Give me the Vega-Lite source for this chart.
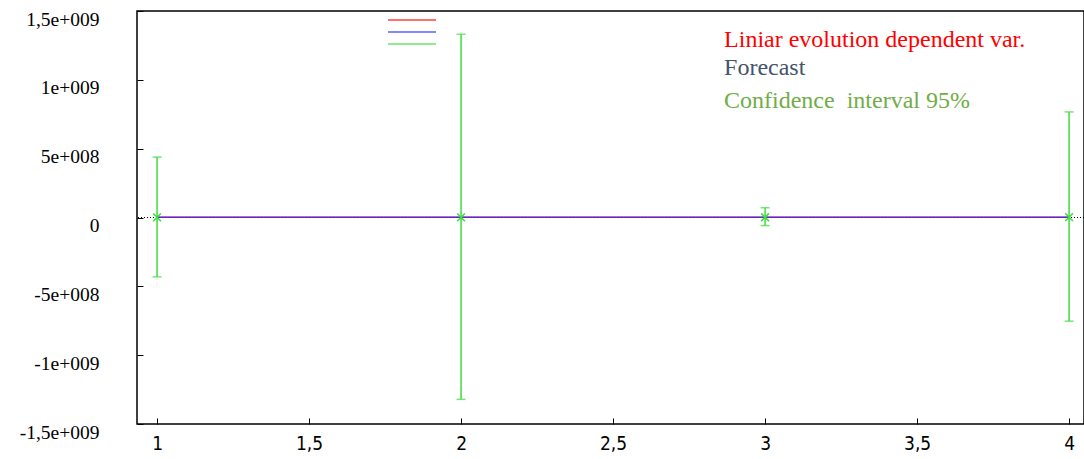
{
  "$schema": "https://vega.github.io/schema/vega-lite/v6.json",
  "autosize": "none",
  "width": 947,
  "height": 413,
  "padding": {"left": 137, "top": 11, "right": 0, "bottom": 35},
  "background": "white",
  "config": {
    "view": {"stroke": "black", "strokeWidth": 1.5},
    "axis": {"grid": false, "domain": false, "tickColor": "black", "tickSize": -6, "labelColor": "black"}
  },
  "datasets": {
    "lines": [
      {"x": 1, "value": 1000000, "series": "Liniar evolution dependent var."},
      {"x": 2, "value": 1500000, "series": "Liniar evolution dependent var."},
      {"x": 3, "value": 2000000, "series": "Liniar evolution dependent var."},
      {"x": 4, "value": 2500000, "series": "Liniar evolution dependent var."},
      {"x": 1, "value": 1000000, "series": "Forecast"},
      {"x": 2, "value": 1500000, "series": "Forecast"},
      {"x": 3, "value": 2000000, "series": "Forecast"},
      {"x": 4, "value": 2500000, "series": "Forecast"}
    ],
    "ci": [
      {"x": 1, "center": 1000000, "lo": -431000000, "hi": 439000000},
      {"x": 2, "center": 1500000, "lo": -1321000000, "hi": 1331000000},
      {"x": 3, "center": 2000000, "lo": -59000000, "hi": 71000000},
      {"x": 4, "center": 2500000, "lo": -753000000, "hi": 767000000}
    ],
    "one": [{}]
  },
  "layer": [
    {
      "data": {"name": "one"},
      "mark": {"type": "rule", "color": "black", "strokeDash": [1, 2], "strokeWidth": 1},
      "encoding": {"y": {"datum": 0, "type": "quantitative"}}
    },
    {
      "data": {"name": "lines"},
      "mark": {"type": "line", "strokeWidth": 1.5, "opacity": 0.75},
      "encoding": {
        "x": {
          "field": "x", "type": "quantitative",
          "scale": {"domain": [0.934, 4.049], "nice": false, "zero": false},
          "axis": {
            "title": null, "values": [1, 1.5, 2, 2.5, 3, 3.5, 4],
            "labelExpr": "replace(format(datum.value, ''), '.', ',')",
            "labelFont": "DejaVu Sans Condensed",
            "labelFontSize": 19, "labelPadding": 16
          }
        },
        "y": {
          "field": "value", "type": "quantitative",
          "scale": {"domain": [-1500000000, 1500000000], "nice": false},
          "axis": {
            "title": null,
            "values": [-1500000000, -1000000000, -500000000, 0, 500000000, 1000000000, 1500000000],
            "labelExpr": "(datum.value<0?'-':'') + (abs(datum.value)==1500000000?'1,5e+009':abs(datum.value)==1000000000?'1e+009':abs(datum.value)==500000000?'5e+008':'0')",
            "labelFont": "Times New Roman",
            "labelFontSize": 19.5, "labelPadding": 44, "labelOffset": 8
          }
        },
        "color": {
          "field": "series", "type": "nominal",
          "scale": {
            "domain": ["Liniar evolution dependent var.", "Forecast", "Confidence interval 95%"],
            "range": ["#ff0000", "#2a2aff", "#3ddc3d"]
          },
          "legend": {
            "orient": "none", "legendX": 250, "legendY": 3, "title": null,
            "symbolType": "stroke", "symbolSize": 2304, "symbolStrokeWidth": 1.5,
            "clipHeight": 12, "rowPadding": 0, "labelOpacity": 0, "labelFontSize": 1
          }
        },
        "order": {"field": "x"}
      }
    },
    {
      "data": {"name": "ci"},
      "mark": {"type": "rule", "strokeWidth": 1.5},
      "encoding": {
        "x": {"field": "x", "type": "quantitative"},
        "y": {"field": "lo", "type": "quantitative"},
        "y2": {"field": "hi"},
        "color": {"datum": "Confidence interval 95%"}
      }
    },
    {
      "data": {"name": "ci"},
      "mark": {"type": "tick", "orient": "horizontal", "size": 9, "thickness": 1.5},
      "encoding": {
        "x": {"field": "x", "type": "quantitative"},
        "y": {"field": "lo", "type": "quantitative"},
        "color": {"datum": "Confidence interval 95%"}
      }
    },
    {
      "data": {"name": "ci"},
      "mark": {"type": "tick", "orient": "horizontal", "size": 9, "thickness": 1.5},
      "encoding": {
        "x": {"field": "x", "type": "quantitative"},
        "y": {"field": "hi", "type": "quantitative"},
        "color": {"datum": "Confidence interval 95%"}
      }
    },
    {
      "data": {"name": "ci"},
      "mark": {"type": "point", "shape": "M-1,-1L1,1M-1,1L1,-1", "size": 60, "filled": false, "strokeWidth": 1.5, "opacity": 1},
      "encoding": {
        "x": {"field": "x", "type": "quantitative"},
        "y": {"field": "center", "type": "quantitative"},
        "color": {"datum": "Confidence interval 95%"}
      }
    },
    {
      "data": {"name": "one"},
      "mark": {"type": "text", "align": "left", "baseline": "middle", "font": "Times New Roman", "fontSize": 24, "color": "#ff0000"},
      "encoding": {"x": {"datum": 2.865}, "y": {"datum": 1289000000}, "text": {"value": "Liniar evolution dependent var."}}
    },
    {
      "data": {"name": "one"},
      "mark": {"type": "text", "align": "left", "baseline": "middle", "font": "Times New Roman", "fontSize": 24, "color": "#44546a"},
      "encoding": {"x": {"datum": 2.865}, "y": {"datum": 1086000000}, "text": {"value": "Forecast"}}
    },
    {
      "data": {"name": "one"},
      "mark": {"type": "text", "align": "left", "baseline": "middle", "font": "Times New Roman", "fontSize": 24, "color": "#70ad47"},
      "encoding": {"x": {"datum": 2.865}, "y": {"datum": 846000000}, "text": {"value": "Confidence\u00a0 interval 95%"}}
    }
  ]
}
